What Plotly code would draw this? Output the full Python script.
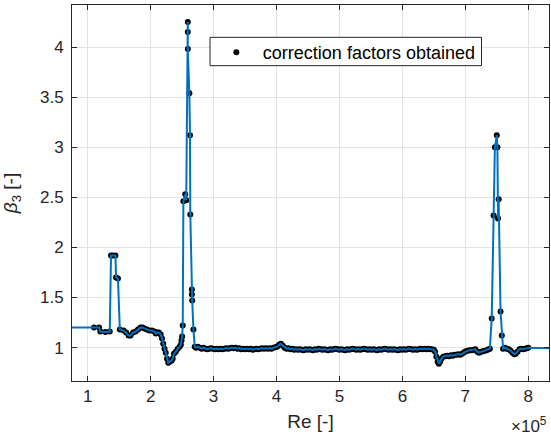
import plotly.graph_objects as go

# ---- data (Re in units of 1e5) ----
re_a = [1.10, 1.18, 1.20, 1.28, 1.35, 1.37, 1.40, 1.44, 1.45, 1.48, 1.51, 1.57, 1.61, 1.65, 1.68,
        1.72, 1.76, 1.80, 1.84, 1.87, 1.90, 1.94, 1.98, 2.02, 2.06, 2.08, 2.10, 2.13, 2.16, 2.18,
        2.20, 2.22, 2.24, 2.26, 2.28, 2.30, 2.33, 2.35, 2.37, 2.40, 2.43, 2.46, 2.48, 2.49, 2.50,
        2.51]
beta_a = [1.20, 1.20, 1.16, 1.155, 1.16, 1.92, 1.92, 1.92, 1.70, 1.69, 1.18, 1.17, 1.15, 1.12, 1.12,
          1.15, 1.16, 1.18, 1.20, 1.20, 1.19, 1.18, 1.17, 1.17, 1.16, 1.14, 1.15, 1.15, 1.13, 1.09,
          1.04, 0.99, 0.95, 0.89, 0.85, 0.86, 0.87, 0.89, 0.94, 0.96, 0.99, 1.01, 1.03, 1.07, 1.11,
          1.22]

re_peak1 = [2.52, 2.55, 2.565, 2.59, 2.59, 2.59, 2.615, 2.625, 2.63, 2.655, 2.655, 2.66, 2.68, 2.70]
beta_peak1 = [2.46, 2.53, 2.47, 4.25, 4.15, 3.98, 3.54, 3.12, 2.33, 1.58, 1.53, 1.47, 1.18, 1.01]

re_b = [2.72, 2.75, 2.78, 2.81, 2.84, 2.87, 2.90, 2.93, 2.96, 2.99, 3.02, 3.05, 3.08, 3.11, 3.14,
        3.17, 3.20, 3.23, 3.26, 3.29, 3.32, 3.35, 3.38, 3.41, 3.44, 3.47, 3.50, 3.53, 3.56, 3.59,
        3.62, 3.65, 3.68, 3.71, 3.74, 3.77, 3.80, 3.83, 3.86, 3.89, 3.92, 3.95, 3.98, 4.01, 4.04,
        4.07, 4.10, 4.13, 4.16, 4.19, 4.22, 4.25, 4.28, 4.31, 4.34, 4.37, 4.40, 4.43, 4.46, 4.49,
        4.52, 4.55, 4.58, 4.61, 4.64, 4.67, 4.70, 4.73, 4.76, 4.79, 4.82, 4.85, 4.88, 4.91, 4.94,
        4.97, 5.00, 5.03, 5.06, 5.09, 5.12, 5.15, 5.18, 5.21, 5.24, 5.27, 5.30, 5.33, 5.36, 5.39,
        5.42, 5.45, 5.48, 5.51, 5.54, 5.57, 5.60, 5.63, 5.66, 5.69, 5.72, 5.75, 5.78, 5.81, 5.84,
        5.87, 5.90, 5.93, 5.96, 5.99, 6.02, 6.05, 6.08, 6.11, 6.14, 6.17, 6.20, 6.23, 6.26, 6.29,
        6.32, 6.35, 6.38, 6.41, 6.44, 6.47]
beta_b = [1.00, 1.01, 1.00, 0.99, 1.00, 0.99, 0.985, 0.99, 0.995, 0.99, 0.985, 0.99, 0.985, 0.99, 0.985,
          0.99, 0.995, 0.99, 0.995, 1.00, 0.995, 1.00, 0.99, 0.995, 0.985, 0.99, 0.985, 0.99, 0.985, 0.99,
          0.98, 0.985, 0.99, 0.985, 0.99, 0.995, 0.99, 0.995, 0.99, 0.995, 0.99, 1.00, 1.005, 1.01, 1.03,
          1.04, 1.02, 1.00, 0.99, 0.995, 0.985, 0.99, 0.98, 0.985, 0.98, 0.985, 0.98, 0.975, 0.985, 0.98,
          0.985, 0.98, 0.975, 0.985, 0.98, 0.99, 0.985, 0.98, 0.985, 0.98, 0.975, 0.985, 0.98, 0.985, 0.99,
          0.985, 0.98, 0.985, 0.98, 0.975, 0.985, 0.98, 0.985, 0.99, 0.985, 0.98, 0.985, 0.98, 0.985, 0.99,
          0.985, 0.98, 0.985, 0.98, 0.985, 0.98, 0.975, 0.985, 0.98, 0.985, 0.99, 0.985, 0.98, 0.985, 0.98,
          0.985, 0.98, 0.975, 0.985, 0.98, 0.985, 0.98, 0.985, 0.99, 0.985, 0.98, 0.985, 0.98, 0.985, 0.99,
          0.985, 0.99, 0.985, 0.99, 0.985, 0.985]

re_c = [6.50, 6.52, 6.54, 6.56, 6.58, 6.60, 6.62, 6.65, 6.68, 6.71, 6.74, 6.77, 6.80, 6.83, 6.86,
        6.89, 6.92, 6.95, 6.98, 7.01, 7.04, 7.07, 7.10, 7.13, 7.16, 7.19, 7.22, 7.25, 7.28, 7.31,
        7.34, 7.37, 7.39]
beta_c = [0.98, 0.96, 0.91, 0.86, 0.84, 0.86, 0.89, 0.91, 0.915, 0.92, 0.915, 0.925, 0.92, 0.93, 0.93,
          0.935, 0.93, 0.94, 0.955, 0.965, 0.97, 0.975, 0.975, 0.98, 0.985, 0.96, 0.95, 0.96, 0.965, 0.97,
          0.975, 0.985, 0.99]

re_peak2 = [7.42, 7.45, 7.47, 7.50, 7.51, 7.52, 7.53, 7.56, 7.58, 7.60]
beta_peak2 = [1.29, 2.32, 3.00, 3.12, 3.00, 2.29, 2.48, 1.36, 1.12, 0.99]

re_d = [7.63, 7.66, 7.69, 7.72, 7.75, 7.78, 7.80, 7.83, 7.86, 7.89, 7.92, 7.95, 7.98, 8.00]
beta_d = [1.00, 0.99, 0.985, 0.97, 0.95, 0.935, 0.94, 0.96, 0.985, 0.99, 0.985, 0.99, 0.995, 1.00]

# constant extension of the fitted curve beyond the data range
re_ext_left, beta_ext_left = 0.75, 1.20
re_ext_right, beta_ext_right = 8.33, 0.995

x_ticks = [1, 2, 3, 4, 5, 6, 7, 8]
x_ticktext = ["1", "2", "3", "4", "5", "6", "7", "8"]
y_ticks = [1, 1.5, 2, 2.5, 3, 3.5, 4]
y_ticktext = ["1", "1.5", "2", "2.5", "3", "3.5", "4"]

re_pts = re_a + re_peak1 + re_b + re_c + re_peak2 + re_d
beta_pts = beta_a + beta_peak1 + beta_b + beta_c + beta_peak2 + beta_d

re_line = [re_ext_left] + re_pts + [re_ext_right]
beta_line = [beta_ext_left] + beta_pts + [beta_ext_right]

FONT = "Liberation Sans, Arial, sans-serif"
AX = "#262626"

fig = go.Figure()
fig.add_trace(go.Scatter(x=re_pts, y=beta_pts, mode="markers",
                         marker=dict(color="black", size=6),
                         name="correction factors obtained"))
fig.add_trace(go.Scatter(x=re_line, y=beta_line, mode="lines",
                         line=dict(color="#0072BD", width=2),
                         showlegend=False))

axis_common = dict(showline=True, linecolor=AX, linewidth=1, mirror="ticks",
                   ticks="inside", ticklen=5, tickcolor=AX, tickwidth=1,
                   showgrid=True, gridcolor="#e3e3e3", gridwidth=1, zeroline=False,
                   tickfont=dict(family=FONT, size=17, color=AX))

fig.update_xaxes(range=[0.75, 8.33], tickvals=x_ticks, ticktext=x_ticktext,
                 title=dict(text="Re [-]", font=dict(family=FONT, size=19, color=AX), standoff=9),
                 **axis_common)
fig.update_yaxes(range=[0.667, 4.42], tickvals=y_ticks, ticktext=y_ticktext,
                 ticklabelstandoff=4,
                 title=dict(text="<i>β</i><sub>3</sub> [-]", font=dict(family=FONT, size=19, color=AX),
                            standoff=19),
                 **axis_common)

fig.add_annotation(x=1, y=0, xref="paper", yref="paper", xanchor="right", yanchor="top",
                   yshift=-31, text="×10<sup>5</sup>", showarrow=False,
                   font=dict(family=FONT, size=17, color=AX))

# legend box (drawn as a shape so its height matches the reference)
fig.add_shape(type="rect", xref="paper", yref="paper",
              x0=0.2893, x1=0.8585, y0=0.8386, y1=0.914,
              fillcolor="white", line=dict(color=AX, width=1), layer="above")

fig.update_layout(width=551, height=445, margin=dict(l=72, r=2, t=5, b=64),
                  paper_bgcolor="white", plot_bgcolor="white",
                  legend=dict(x=0.289, y=0.9225, xanchor="left", yanchor="top",
                              bgcolor="rgba(0,0,0,0)", borderwidth=0,
                              itemwidth=43,
                              font=dict(family=FONT, size=18, color="black")))

fig.write_html("out.html")
